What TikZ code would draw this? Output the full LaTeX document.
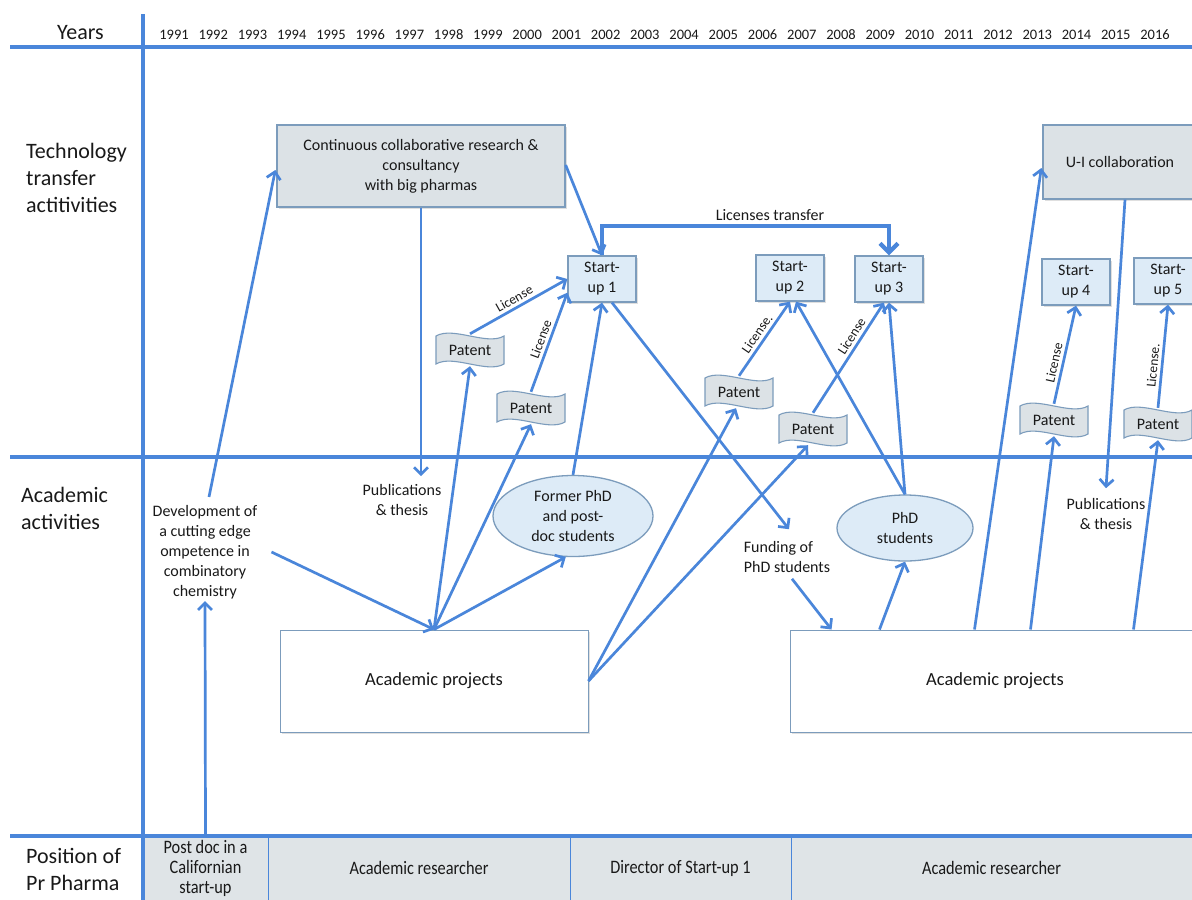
\documentclass[tikz,border=0pt]{standalone}
\usepackage{fontspec}
\setmainfont{Carlito}
\newfontfamily\condf[FakeStretch=0.86]{Carlito}
\usetikzlibrary{arrows.meta,calc,shapes.geometric,shadows}
\definecolor{lblue}{HTML}{4A86DA}
\definecolor{bord}{HTML}{7C9CBC}
\definecolor{gfill}{HTML}{DCE2E6}
\definecolor{sfill}{HTML}{DDEBF7}
\definecolor{cellfill}{HTML}{DFE4E7}
\newcommand\patentshape[3]{%
  \begin{scope}[shift={(#2,#3)}]
    \draw[patfill] (-34,-14) .. controls (-17,-24) and (17,-4) .. (34,-14)
      -- (34,14) .. controls (17,24) and (-17,4) .. (-34,14) -- cycle;
    \node[patlab] (#1) at (0,0) {Patent};
  \end{scope}}
\begin{document}
\begin{tikzpicture}[x=1pt,y=-1pt,
  every node/.style={font=\fontsize{16}{20}\selectfont, inner sep=2pt, text=black!90},
  ax/.style={draw=lblue, line width=3.2pt},
  ln/.style={draw=lblue, line width=2.7pt},
  arr/.style={ln, -{Straight Barb[length=7pt,width=14pt]}},
  bigarr/.style={draw=lblue, line width=4.2pt, -{Straight Barb[length=9pt,width=18pt]}},
  rowlab/.style={font=\fontsize{22}{27}\selectfont, align=left, anchor=west},
  yr/.style={font=\fontsize{14.5}{17}\selectfont},
  shbox/.style={line width=1.3pt, draw=bord, align=center, drop shadow={opacity=0.25, shadow xshift=2pt, shadow yshift=-2pt}},
  graybox/.style={shbox, fill=gfill},
  subox/.style={shbox, fill=sfill, minimum width=68pt, minimum height=46pt, inner sep=0pt},
  wbox/.style={shbox, fill=white, line width=1pt, font=\fontsize{18.5}{22}\selectfont, minimum height=102pt},
  ell/.style={ellipse, draw=bord, fill=sfill, line width=1.3pt, align=center, inner sep=0pt},
  txt/.style={align=center},
  lic/.style={font=\fontsize{13.5}{16}\selectfont, sloped, above, inner sep=3pt},
  cell/.style={draw=lblue, line width=0.9pt, fill=cellfill, minimum height=64pt, align=center, font=\condf\fontsize{19}{20}\selectfont},
  patfill/.style={draw=bord, fill=gfill, line width=1.1pt},
  patlab/.style={minimum width=68pt, minimum height=32pt, inner sep=0pt}
]
\clip (0,0) rectangle (1192,900);
\fill[white] (0,0) rectangle (1192,900);

% bottom cells
\node[cell, minimum width=125pt] (c1) at (205.5,868) {Post doc in a\\Californian\\start-up};
\node[cell, minimum width=302pt] (c2) at (419,868) {Academic researcher};
\node[cell, minimum width=221pt] (c3) at (680.5,868) {Director of Start-up 1};
\node[cell, minimum width=401pt] (c4) at (991.5,868) {Academic researcher};

% axes
\coordinate (h1l) at (10,47); \coordinate (h1r) at (1192,47);
\coordinate (h2l) at (10,457); \coordinate (h2r) at (1192,457);
\coordinate (h3l) at (10,836); \coordinate (h3r) at (1192,836);
\coordinate (vt) at (143,14); \coordinate (vb) at (143,900);
\draw[ax] (h1l) -- (h1r);
\draw[ax] (h2l) -- (h2r);
\draw[ax] (h3l) -- (h3r);
\draw[ax] (vt) -- (vb);

% labels
\node[rowlab] (lyears) at (55,33) {Years};
\node[rowlab] (ltt) at (24,178) {Technology\\transfer\\actitivities};
\node[rowlab] (laa) at (19,508) {Academic\\activities};
\node[rowlab] (lpos) at (24,869) {Position of\\Pr Pharma};
\foreach \i in {0,...,25}{
  \pgfmathtruncatemacro\yy{1991+\i}
  \node[yr] (yr\i) at ({174+39.24*\i},35) {\yy};
}

% boxes
\node[graybox, minimum width=288pt, minimum height=82pt] (cont) at (421,166) {Continuous collaborative research \&\\consultancy\\with big pharmas};
\node[graybox, minimum width=154pt, minimum height=74pt] (ui) at (1120,162) {U-I collaboration};

\node[subox] (su1) at (602,279) {Start-\\up 1};
\node[subox] (su2) at (790,278) {Start-\\up 2};
\node[subox] (su3) at (889,279) {Start-\\up 3};
\node[subox] (su4) at (1076,282) {Start-\\up 4};
\node[subox] (su5) at (1168,281) {Start-\\up 5};

\patentshape{pA}{470}{350}
\patentshape{pB}{531}{408}
\patentshape{pC}{739}{392}
\patentshape{pD}{813}{429}
\patentshape{pE}{1054}{420}
\patentshape{pF}{1158}{424}

\node[ell, minimum width=160pt, minimum height=81pt] (fphd) at (573,516) {Former PhD\\and post-\\doc students};
\node[ell, minimum width=136pt, minimum height=66pt] (phd) at (905,528) {PhD\\students};

\node[wbox, minimum width=308pt] (ap1) at (434,681) {Academic projects};
\node[wbox, minimum width=410pt] (ap2) at (995,681) {Academic projects};

\node[txt] (dev) at (205,552) {Development of\\a cutting edge\\ompetence in\\combinatory\\chemistry};
\node[txt] (pub1) at (402,500) {Publications\\\& thesis};
\node[txt] (pub2) at (1106,514) {Publications\\\& thesis};
\node[align=left] (fund) at (787,557) {Funding of\\PhD students};
\node (ltlab) at (770,215) {Licenses transfer};

% connectors
\draw[bigarr] (su1.north) -- ++(0,-29) -| (su3.north);
\draw[arr] ($(dev.north)+(4,-6)$) -- ($(cont.west)+(-1,4)$);
\draw[arr] (cont.south) -- ($(cont.south |- pub1.north)+(0,-6)$);
\draw[arr] ($(cont.east)+(0,-1)$) -- (su1.north);
\draw[arr] (pA.north) -- node[lic]{License} (su1.west);
\draw[arr] (pB.north) -- node[lic, pos=0.5]{License} ($(su1.south west)+(0,-10)$);
\draw[arr] (ap1.north) -- (pA.south);
\draw[arr] (ap1.north) -- (pB.south);
\draw[arr] (ap1.north) -- (fphd.260);
\draw[arr] ($(dev.east)+(12,0)$) -- (ap1.north);
\draw[arr] (fphd.north) -- (su1.south);
\draw[arr] ($(su1.south)+(10,0)$) -- ($(fund.north)+(2,-10)$);
\draw[arr] (ap1.east) -- ($(pC.south)+(-3,0)$);
\draw[arr] (ap1.east) -- ($(pD.south)+(-5,0)$);
\draw[arr] (pC.north) -- node[lic]{License.} (su2.south);
\draw[arr] (pD.north) -- node[lic, pos=0.65]{License} ($(su3.south)+(-5,0)$);
\draw[arr] (phd.north) -- ($(su2.south)+(6,0)$);
\draw[arr] (phd.north) -- (su3.south);
\draw[arr] ($(fund.south)+(5,4)$) -- ($(ap2.north west)+(42,0)$);
\draw[arr] ($(ap2.north west)+(90,0)$) -- (phd.south);
\draw[arr] ($(ap2.north west)+(185,0)$) -- ($(ui.west)+(-1,6)$);
\draw[arr] ($(ap2.north west)+(241,0)$) -- (pE.south);
\draw[arr] (pE.north) -- node[lic, pos=0.4]{License} (su4.south);
\draw[arr] ($(ui.south)+(5,0)$) -- ($(pub2.north)+(0,-8)$);
\draw[arr] ($(ap2.north west)+(344,0)$) -- (pF.south);
\draw[arr] (pF.north) -- node[lic, pos=0.4]{License.} (su5.south);
\draw[arr] (c1.north) -- (dev.south);
\end{tikzpicture}
\end{document}
